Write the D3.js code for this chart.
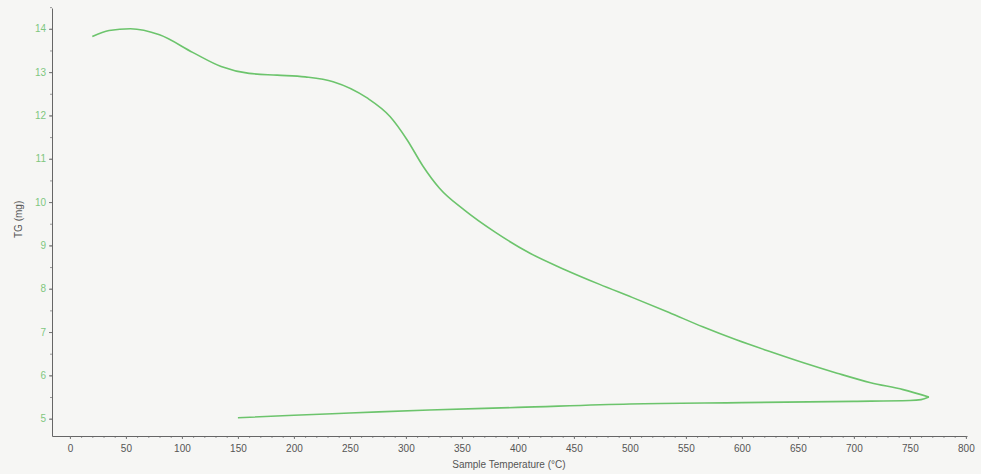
<!DOCTYPE html>
<html>
<head>
<meta charset="utf-8">
<script src="https://cdn.jsdelivr.net/npm/d3@7"></script>
<style>
  body { margin: 0; background: #f6f6f4; }
  svg { display: block; }
</style>
</head>
<body>
<div id="chart"></div>
<script>
// heating run: sample temperature (°C) and mass (mg)
var heatTemp = [20, 35, 54, 80, 110, 135, 160, 185, 210, 235, 265, 286, 301, 315, 330, 352, 380, 410, 442, 473, 502, 535, 565, 595, 625, 655, 685, 715, 744, 767];
var heatMass = [13.82, 13.96, 14.0, 13.86, 13.45, 13.13, 12.97, 12.93, 12.89, 12.78, 12.41, 11.97, 11.44, 10.84, 10.32, 9.82, 9.3, 8.83, 8.44, 8.1, 7.8, 7.45, 7.12, 6.82, 6.55, 6.29, 6.05, 5.83, 5.67, 5.5];
// cooling run, listed from the low end up to the turning point
var coolTemp = [150, 200, 250, 321, 400, 500, 600, 700, 750, 760, 767];
var coolMass = [5.02, 5.08, 5.13, 5.2, 5.26, 5.34, 5.37, 5.4, 5.42, 5.44, 5.5];

var xTicks = [0, 50, 100, 150, 200, 250, 300, 350, 400, 450, 500, 550, 600, 650, 700, 750, 800];
var yTicks = [5, 6, 7, 8, 9, 10, 11, 12, 13, 14];

var width = 981, height = 474;
var margin = {top: 8, right: 14, bottom: 38, left: 52};

var svg = d3.select("#chart").append("svg")
    .attr("width", width)
    .attr("height", height);

var x = d3.scaleLinear()
    .domain([-16, 801])
    .range([margin.left, width - margin.right]);

var y = d3.scaleLinear()
    .domain([4.6, 14.48])
    .range([height - margin.bottom, margin.top]);

// minor ticks
svg.append("g")
    .attr("transform", "translate(0," + (height - margin.bottom) + ")")
    .call(d3.axisBottom(x).tickValues(d3.range(0, 801, 10)).tickSize(2).tickFormat(""))
    .call(function(g) { g.select(".domain").remove(); })
    .selectAll("line").attr("stroke", "#999");

svg.append("g")
    .attr("transform", "translate(" + margin.left + ",0)")
    .call(d3.axisLeft(y).tickValues(d3.range(5, 14.6, 0.5)).tickSize(2).tickFormat(""))
    .call(function(g) { g.select(".domain").remove(); })
    .selectAll("line").attr("stroke", "#999");

var xAxis = svg.append("g")
    .attr("transform", "translate(0," + (height - margin.bottom) + ")")
    .call(d3.axisBottom(x).tickValues(xTicks).tickSize(3).tickSizeOuter(0).tickPadding(6));

xAxis.select(".domain").attr("stroke", "#666");
xAxis.selectAll("line").attr("stroke", "#777");
xAxis.selectAll("text")
    .attr("fill", "#555")
    .style("font-family", "Liberation Sans, Arial, sans-serif")
    .style("font-size", "10px");

var yAxis = svg.append("g")
    .attr("transform", "translate(" + margin.left + ",0)")
    .call(d3.axisLeft(y).tickValues(yTicks).tickSize(3).tickSizeOuter(0).tickPadding(3));

yAxis.select(".domain").attr("stroke", "#666");
yAxis.selectAll("line").attr("stroke", "#777");
yAxis.selectAll("text")
    .attr("fill", "#7fc77f")
    .style("font-family", "Liberation Sans, Arial, sans-serif")
    .style("font-size", "10px");

// axis titles
svg.append("text")
    .attr("x", x(400) - 9)
    .attr("y", height - 6)
    .attr("text-anchor", "middle")
    .attr("fill", "#555")
    .style("font-family", "Liberation Sans, Arial, sans-serif")
    .style("font-size", "10px")
    .text("Sample Temperature (°C)");

svg.append("text")
    .attr("transform", "translate(22," + y(9.6) + ") rotate(-90)")
    .attr("text-anchor", "middle")
    .attr("fill", "#555")
    .style("font-family", "Liberation Sans, Arial, sans-serif")
    .style("font-size", "10px")
    .text("TG (mg)");

var line = d3.line()
    .x(function(d) { return x(d[0]); })
    .y(function(d) { return y(d[1]); })
    .curve(d3.curveMonotoneX);

var heat = d3.zip(heatTemp, heatMass);
var cool = d3.zip(coolTemp, coolMass);

[heat, cool].forEach(function(seg) {
    svg.append("path")
        .datum(seg)
        .attr("fill", "none")
        .attr("stroke", "#6cc46c")
        .attr("stroke-width", 1.6)
        .attr("d", line);
});
</script>
</body>
</html>
